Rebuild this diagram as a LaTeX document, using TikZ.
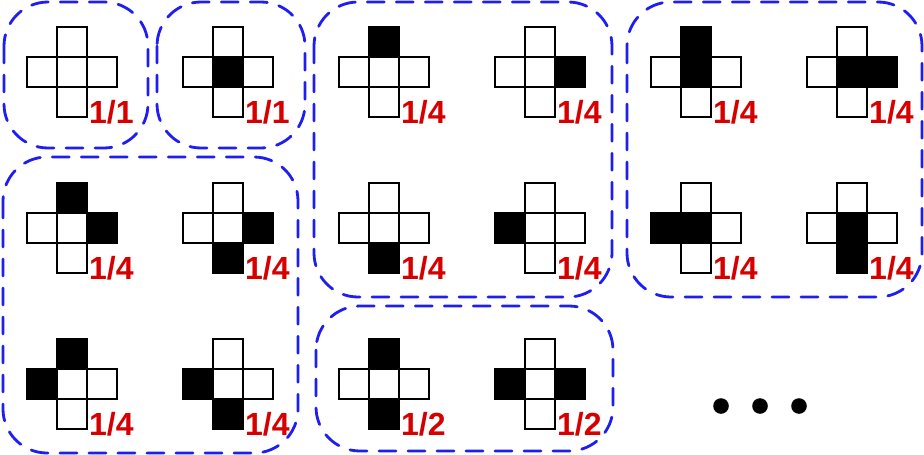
\documentclass[tikz,border=0pt]{standalone}
\usepackage{fontspec}
\setmainfont{Liberation Sans}
\usetikzlibrary{positioning}
\definecolor{dashblue}{RGB}{30,30,240}
\definecolor{probred}{RGB}{215,0,0}
\tikzset{
  group/.style={draw=dashblue,line width=2.8pt,line cap=round,
    dash pattern=on 17pt off 12pt,rounded corners=44pt},
  cell/.style={draw=black,line width=1.4pt},
  prob/.style={text=probred,font=\fontsize{32}{32}\selectfont\bfseries,
    inner sep=0pt,anchor=base west},
  % cross of five cells, #1 = filled cells as dx/dy, #2 = probability
  pics/cross/.style n args={2}{code={
    \foreach \dx/\dy in {#1}
      \fill[black] (\dx*30-15,\dy*30-15) rectangle +(30,30);
    \foreach \dx/\dy in {0/0,0/-1,0/1,-1/0,1/0}
      \draw[cell] (\dx*30-15,\dy*30-15) rectangle +(30,30);
    \node[prob] (-p) at (17,51) {#2};
  }},
}

\begin{document}
\begin{tikzpicture}[x=1pt,y=-1pt]
  \useasboundingbox (0,0) rectangle (924,455);
  % top row
  \pic (c1) at (72,72) {cross={}{1/1}};
  \pic (c2) at (228,72) {cross={0/0}{1/1}};
  \pic (c3) at (384,72) {cross={0/-1}{1/4}};
  \pic (c4) at (540,72) {cross={1/0}{1/4}};
  \pic (c5) at (696,72) {cross={0/-1,0/0}{1/4}};
  \pic (c6) at (852,72) {cross={0/0,1/0}{1/4}};
  % middle row
  \pic (c7) at (72,228) {cross={0/-1,1/0}{1/4}};
  \pic (c8) at (228,228) {cross={1/0,0/1}{1/4}};
  \pic (c9) at (384,228) {cross={0/1}{1/4}};
  \pic (c10) at (540,228) {cross={-1/0}{1/4}};
  \pic (c11) at (696,228) {cross={-1/0,0/0}{1/4}};
  \pic (c12) at (852,228) {cross={0/0,0/1}{1/4}};
  % bottom row
  \pic (c13) at (72,384) {cross={0/-1,-1/0}{1/4}};
  \pic (c14) at (228,384) {cross={-1/0,0/1}{1/4}};
  \pic (c15) at (384,384) {cross={0/-1,0/1}{1/2}};
  \pic (c16) at (540,384) {cross={-1/0,1/0}{1/2}};
  % groups
  \draw[group] (4,2) rectangle (148,148);
  \draw[group] (157,2) rectangle (305,148);
  \draw[group] (3,157) rectangle (298,453);
  \draw[group] (314,2) rectangle (612,297);
  \draw[group] (627,2) rectangle (922,297);
  \draw[group] (316,306) rectangle (613,451);
  % more cases
  \foreach \x [count=\i] in {721,760,799}
    \fill (\x,406) circle (7.8) coordinate (dot\i);
\end{tikzpicture}
\end{document}
